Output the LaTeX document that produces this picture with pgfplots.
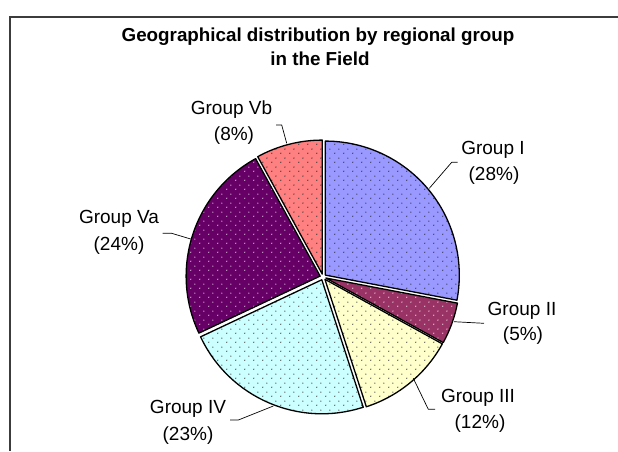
\documentclass[border=0pt]{standalone}
\usepackage{pgfplots}
\pgfplotsset{compat=1.18}
\usepackage{pgfplotstable}
\usepackage{fontspec}
\setmainfont{Liberation Sans}
\usetikzlibrary{patterns.meta}
\pgfdeclarepattern{
  name=exceldots,
  type=uncolored,
  bottom left={\pgfpoint{0pt}{0pt}},
  top right={\pgfpoint{9pt}{9pt}},
  tile size={\pgfpoint{9pt}{9pt}},
  code={
    \pgfpathcircle{\pgfpoint{2pt}{2pt}}{0.75pt}
    \pgfpathcircle{\pgfpoint{6.5pt}{6.5pt}}{0.75pt}
    \pgfusepath{fill}
  }
}
\definecolor{slice0}{HTML}{9999FF}\definecolor{dot0}{HTML}{34344E}
\definecolor{slice1}{HTML}{993366}\definecolor{dot1}{HTML}{EBCFDD}
\definecolor{slice2}{HTML}{FFFFCC}\definecolor{dot2}{HTML}{484848}
\definecolor{slice3}{HTML}{CCFFFF}\definecolor{dot3}{HTML}{484848}
\definecolor{slice4}{HTML}{660066}\definecolor{dot4}{HTML}{DDBFDD}
\definecolor{slice5}{HTML}{FF8080}\definecolor{dot5}{HTML}{3A3A3A}
\definecolor{framec}{HTML}{3C3C3C}

\pgfplotstableread{
name pct
I 28
II 5
III 12
IV 23
Va 24
Vb 8
}\piedata

\begin{document}
\begin{tikzpicture}
\useasboundingbox (0,0) rectangle (618pt,451pt);
% cumulative angles (clockwise from 12 o'clock)
\gdef\cum{90}
\foreach \i in {0,...,5}{
  \pgfplotstablegetelem{\i}{pct}\of\piedata
  \pgfmathsetmacro\a{\cum}
  \pgfmathsetmacro\b{\cum-3.6*\pgfplotsretval}
  \pgfmathsetmacro\m{(\a+\b)/2}
  \expandafter\xdef\csname sA\i\endcsname{\a}
  \expandafter\xdef\csname sB\i\endcsname{\b}
  \expandafter\xdef\csname sM\i\endcsname{\m}
  \xdef\cum{\b}
}
\begin{axis}[
  x=1pt, y=1pt, y dir=reverse,
  xmin=0, xmax=618, ymin=0, ymax=451,
  scale only axis, hide axis, clip=false,
  at={(0,0)}, anchor=south west,
]
% frame (left and top edges; right and bottom lie outside the picture)
\fill[framec] (axis cs:9.25,451) rectangle (axis cs:10.75,16.25);
\fill[framec] (axis cs:9.25,16.25) rectangle (axis cs:618,17.75);
% slices
\pgfplotsinvokeforeach{0,...,5}{
  \path[preaction={fill=slice#1}, pattern=exceldots, pattern color=dot#1,
        draw=black, line width=1.3pt, line join=round]
    ([shift={(\csname sM#1\endcsname:3pt)}]axis cs:323,277)
    -- ++(\csname sA#1\endcsname:134pt)
    arc[start angle=\csname sA#1\endcsname, end angle=\csname sB#1\endcsname, radius=134pt]
    -- cycle;
}
% leader lines
\draw[black, line width=0.7pt] (axis cs:429.3,188.3) -- (axis cs:451.7,162.3) -- (axis cs:457.7,162.3);
\draw[black, line width=0.7pt] (axis cs:454,321.7) -- (axis cs:484,323.3);
\draw[black, line width=0.7pt] (axis cs:413.3,378.3) -- (axis cs:428.3,409.3) -- (axis cs:435,409.3);
\draw[black, line width=0.7pt] (axis cs:273.3,406) -- (axis cs:238.3,420) -- (axis cs:230,420);
\draw[black, line width=0.7pt] (axis cs:191.7,239.3) -- (axis cs:171.7,233.3) -- (axis cs:162.7,233.3);
\draw[black, line width=0.7pt] (axis cs:286.7,143.3) -- (axis cs:281.7,125) -- (axis cs:276,125);
% labels
\tikzset{lab/.style={anchor=base, inner sep=0pt, font=\fontsize{19}{23}\selectfont}}
\node[lab] at (axis cs:493,154) {Group I};
\node[lab] at (axis cs:494,180) {(28\%)};
\node[lab] at (axis cs:522,315) {Group II};
\node[lab] at (axis cs:523,340) {(5\%)};
\node[lab] at (axis cs:478,402) {Group III};
\node[lab] at (axis cs:480,428) {(12\%)};
\node[lab] at (axis cs:188,413) {Group IV};
\node[lab] at (axis cs:188,440) {(23\%)};
\node[lab] at (axis cs:119,223) {Group Va};
\node[lab] at (axis cs:119,250) {(24\%)};
\node[lab] at (axis cs:231.5,114) {Group Vb};
\node[lab] at (axis cs:234,140) {(8\%)};
% title
\tikzset{tit/.style={anchor=base, inner sep=0pt, font=\bfseries\fontsize{18.8}{22}\selectfont}}
\node[tit] at (axis cs:318,41) {Geographical distribution by regional group};
\node[tit] at (axis cs:320,65) {in the Field};
\end{axis}
\end{tikzpicture}
\end{document}
